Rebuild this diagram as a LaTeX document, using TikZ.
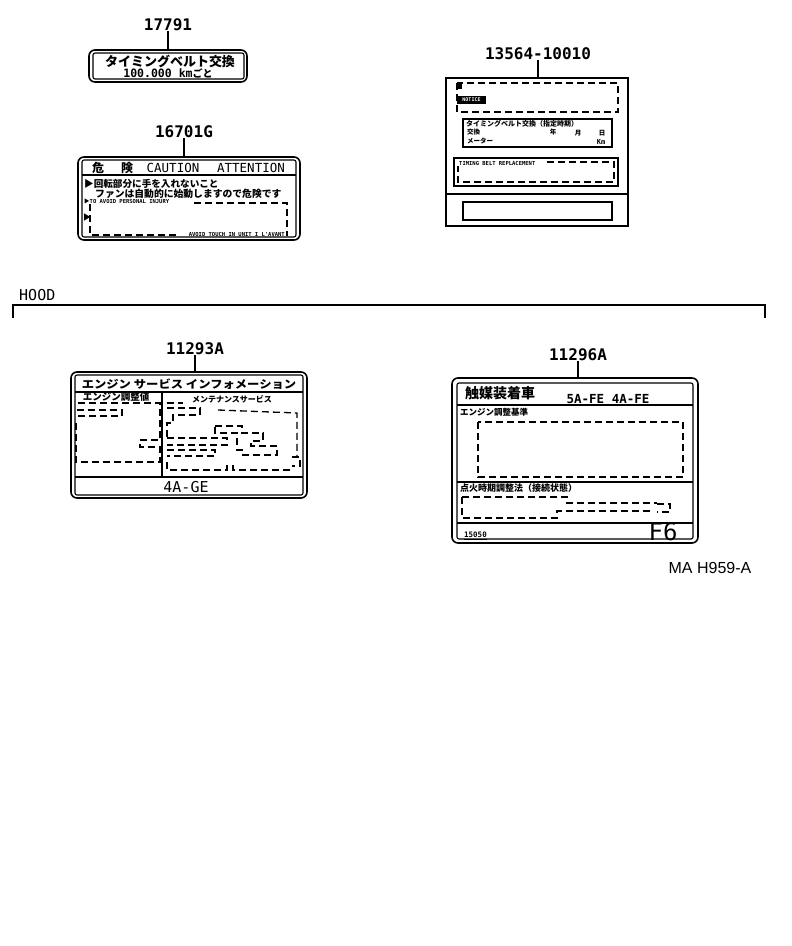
\documentclass[tikz,border=0pt]{standalone}
\usepackage{fontspec}
\usepackage{graphicx}
\setmainfont{DejaVu Sans Mono}
\newfontfamily\jp{Noto Sans CJK JP}
\newfontfamily\mono{DejaVu Sans Mono}
\newfontfamily\arial{Liberation Sans}
\begin{document}
\begin{tikzpicture}[x=1pt,y=-1pt,
  outer/.style={line width=1.6pt, rounded corners=6pt},
  inner/.style={line width=1.1pt, rounded corners=2pt},
  plain/.style={line width=1.3pt},
  dsh/.style={line width=1.3pt, dash pattern=on 7pt off 4pt},
  num/.style={inner sep=0pt, font=\mono\bfseries\fontsize{16}{16}\selectfont},
  leader/.style={line width=1.4pt},
  txt/.style={inner sep=0pt},
  jps/.style={inner sep=0pt, anchor=west},
]
\useasboundingbox (0,0) rectangle (792,946);

% ---------------- 17791 ----------------
\node[num] (p17791) at (168,25) {17791};
\coordinate (t17791) at (168,50);
\draw[leader] (p17791.south) -- (t17791);
\draw[outer] (89,50) rectangle (247,82);
\draw[inner] (93,53) rectangle (244,79);
\node[txt, font=\jp\bfseries\fontsize{13}{13}\selectfont] (a1) at (170,61.5) {タイミングベルト交換};
\node[txt] (a2) at (168,73) {{\mono\bfseries\fontsize{11.5}{12}\selectfont 100.000 km}{\jp\bfseries\fontsize{10}{10}\selectfont ごと}};

% ---------------- 16701G ----------------
\node[num] (p16701) at (184,132) {16701G};
\coordinate (t16701) at (184,157);
\draw[leader] (p16701.south) -- (t16701);
\draw[outer] (78,157) rectangle (300,240);
\draw[inner] (82,160) rectangle (296,237);
\draw[plain] (82,175) -- (296,175);
\node[txt, font=\jp\bfseries\fontsize{12}{12}\selectfont] (b1) at (98,168) {危};
\node[txt, font=\jp\bfseries\fontsize{12}{12}\selectfont] (b2) at (127,168) {険};
\node[txt, font=\mono\fontsize{12.5}{12}\selectfont] (b3) at (173,168) {CAUTION};
\node[txt, font=\mono\fontsize{12.5}{12}\selectfont] (b4) at (251,168) {ATTENTION};
\node[jps, font=\jp\bfseries\fontsize{9.6}{10}\selectfont] (b5) at (84,184) {▶回転部分に手を入れないこと};
\node[jps, font=\jp\bfseries\fontsize{9.8}{10}\selectfont] (b6) at (95,193.5) {ファンは自動的に始動しますので危険です};
\node[jps, font=\mono\bfseries\fontsize{5.5}{6}\selectfont] (b7) at (84,201) {{\jp ▶}TO AVOID PERSONAL INJURY};
\node[jps, font=\jp\bfseries\fontsize{8}{8}\selectfont] (b8) at (83,217) {▶};
\draw[dsh] (194,203) -- (287,203) -- (287,236);
\draw[dsh] (90,204) -- (90,235) -- (176,235);
\node[txt, anchor=east, font=\mono\bfseries\fontsize{5.5}{6}\selectfont] (b9) at (285,234.5) {AVOID TOUCH IN UNIT I L'AVANT};

% ---------------- 13564-10010 ----------------
\node[num] (p13564) at (538,54) {13564-10010};
\coordinate (t13564) at (538,78);
\draw[leader] (p13564.south) -- (t13564);
\draw[line width=1.5pt] (446,78) rectangle (628,226);
\draw[plain] (446,194) -- (628,194);
\draw[dsh, line width=1.1pt] (457,83) rectangle (618,112);
\fill (458,84) rectangle (462,89);
\fill (457,96) rectangle (486,104);
\node[txt, text=white, font=\mono\bfseries\fontsize{5}{5}\selectfont] (c0) at (471.5,100) {NOTICE};
\draw[line width=1.4pt] (463,119) rectangle (612,147);
\node[txt, font=\jp\bfseries\fontsize{7}{7}\selectfont] (c1) at (522,124) {タイミングベルト交換（指定時期）};
\node[jps, font=\jp\bfseries\fontsize{6.5}{7}\selectfont] (c2) at (467,132) {交換};
\node[txt, font=\jp\bfseries\fontsize{6.5}{7}\selectfont] (c3) at (553,132) {年};
\node[txt, font=\jp\bfseries\fontsize{6.5}{7}\selectfont] (c4) at (578,133) {月};
\node[txt, font=\jp\bfseries\fontsize{6.5}{7}\selectfont] (c5) at (602,133) {日};
\node[jps, font=\jp\bfseries\fontsize{6.5}{7}\selectfont] (c6) at (467,141) {メーター};
\node[txt, font=\mono\bfseries\fontsize{7}{7}\selectfont] (c7) at (601,142) {Km};
\draw[line width=1.4pt] (454,158) rectangle (618,186);
\node[jps, font=\mono\bfseries\fontsize{5.5}{6}\selectfont] (c8) at (459,163) {TIMING BELT REPLACEMENT};
\draw[dsh, line width=1.1pt] (547,162) -- (614,162) -- (614,182) -- (458,182) -- (458,166);
\draw[line width=1.4pt] (463,202) rectangle (612,220);

% ---------------- HOOD ----------------
\node[txt, anchor=west, font=\mono\fontsize{15}{15}\selectfont] (hood) at (19,295) {HOOD};
\coordinate (h1) at (13,318);
\coordinate (h2) at (13,305);
\coordinate (h3) at (765,305);
\coordinate (h4) at (765,318);
\draw[line width=1.3pt] (h1) -- (h2) -- (h3) -- (h4);

% ---------------- 11293A ----------------
\node[num] (p11293) at (195,349) {11293A};
\coordinate (t11293) at (195,372);
\draw[leader] (p11293.south) -- (t11293);
\draw[outer] (71,372) rectangle (307,498);
\draw[inner] (75,375) rectangle (303,495);
\draw[plain] (75,392) -- (303,392);
\draw[plain] (162,392) -- (162,477);
\draw[plain] (75,477) -- (303,477);
\node[txt, font=\jp\bfseries\fontsize{11}{11}\selectfont] (d1) at (189,384.5) {\scalebox{1.12}[1]{エンジン サービス インフォメーション}};
\node[txt, font=\mono\fontsize{15}{15}\selectfont] (d2) at (186,487) {4A-GE};
\node[txt, font=\jp\bfseries\fontsize{9.5}{10}\selectfont] (d3) at (116,397) {エンジン調整値};
\node[txt, font=\jp\bfseries\fontsize{8}{8}\selectfont] (d4) at (232,399) {メンテナンスサービス};
% left panel dashed shapes
\draw[dsh] (78,403) -- (160,403) -- (160,440) -- (140,440) -- (140,447) -- (160,447) -- (160,462) -- (76,462) -- (76,419);
\draw[dsh] (77,410) -- (122,410) -- (122,416) -- (77,416);
% right panel dashed shapes
\draw[dsh] (167,403) -- (183,403);
\draw[dsh] (167,408) -- (200,408) -- (200,415) -- (173,415) -- (173,423) -- (167,423) -- (167,438);
\draw[dsh] (218,410) -- (297,413) -- (297,457);
\draw[dsh] (167,438) -- (227,438) -- (227,445) -- (167,445);
\draw[dsh] (167,450) -- (215,450) -- (215,456) -- (167,456);
\draw[dsh] (167,462) -- (167,470) -- (227,470) -- (227,466) -- (233,466) -- (233,470) -- (293,470);
\draw[dsh] (292,457) -- (300,457) -- (300,466) -- (292,466);
\draw[dsh] (215,426) -- (242,426) -- (242,433) -- (263,433) -- (263,441) -- (251,441) -- (251,446) -- (277,446) -- (277,455) -- (242,455) -- (242,450) -- (237,450) -- (237,433) -- (215,433) -- cycle;

% ---------------- 11296A ----------------
\node[num] (p11296) at (578,355) {11296A};
\coordinate (t11296) at (578,378);
\draw[leader] (p11296.south) -- (t11296);
\draw[outer] (452,378) rectangle (698,543);
\draw[inner] (457,383) rectangle (693,539);
\draw[plain] (457,405) -- (693,405);
\draw[plain] (457,482) -- (693,482);
\draw[plain] (457,523) -- (693,523);
\node[txt, font=\jp\bfseries\fontsize{14}{14}\selectfont] (e1) at (500,393) {触媒装着車};
\node[txt, font=\mono\bfseries\fontsize{12.5}{12}\selectfont] (e2) at (608,399) {5A-FE 4A-FE};
\node[jps, font=\jp\bfseries\fontsize{8.5}{9}\selectfont] (e3) at (460,412) {エンジン調整基準};
\draw[dsh] (478,422) rectangle (683,477);
\node[jps, font=\jp\bfseries\fontsize{9}{9}\selectfont] (e4) at (460,488) {点火時期調整法（接続状態）};
\draw[dsh] (462,497) -- (567,497) -- (567,503) -- (657,503);
\draw[dsh] (657,504) -- (670,504) -- (670,512) -- (657,512);
\draw[dsh] (462,497) -- (462,518) -- (557,518) -- (557,511) -- (650,511);
\node[jps, font=\mono\bfseries\fontsize{7.5}{8}\selectfont] (e5) at (464,536) {\underline{15050}};
\node[txt, font=\mono\fontsize{24}{24}\selectfont] (e6) at (663,532) {F6};

% ---------------- code ----------------
\node[txt, font=\arial\fontsize{16}{16}\selectfont] (code) at (710,568) {MA H959-A};
\end{tikzpicture}
\end{document}
